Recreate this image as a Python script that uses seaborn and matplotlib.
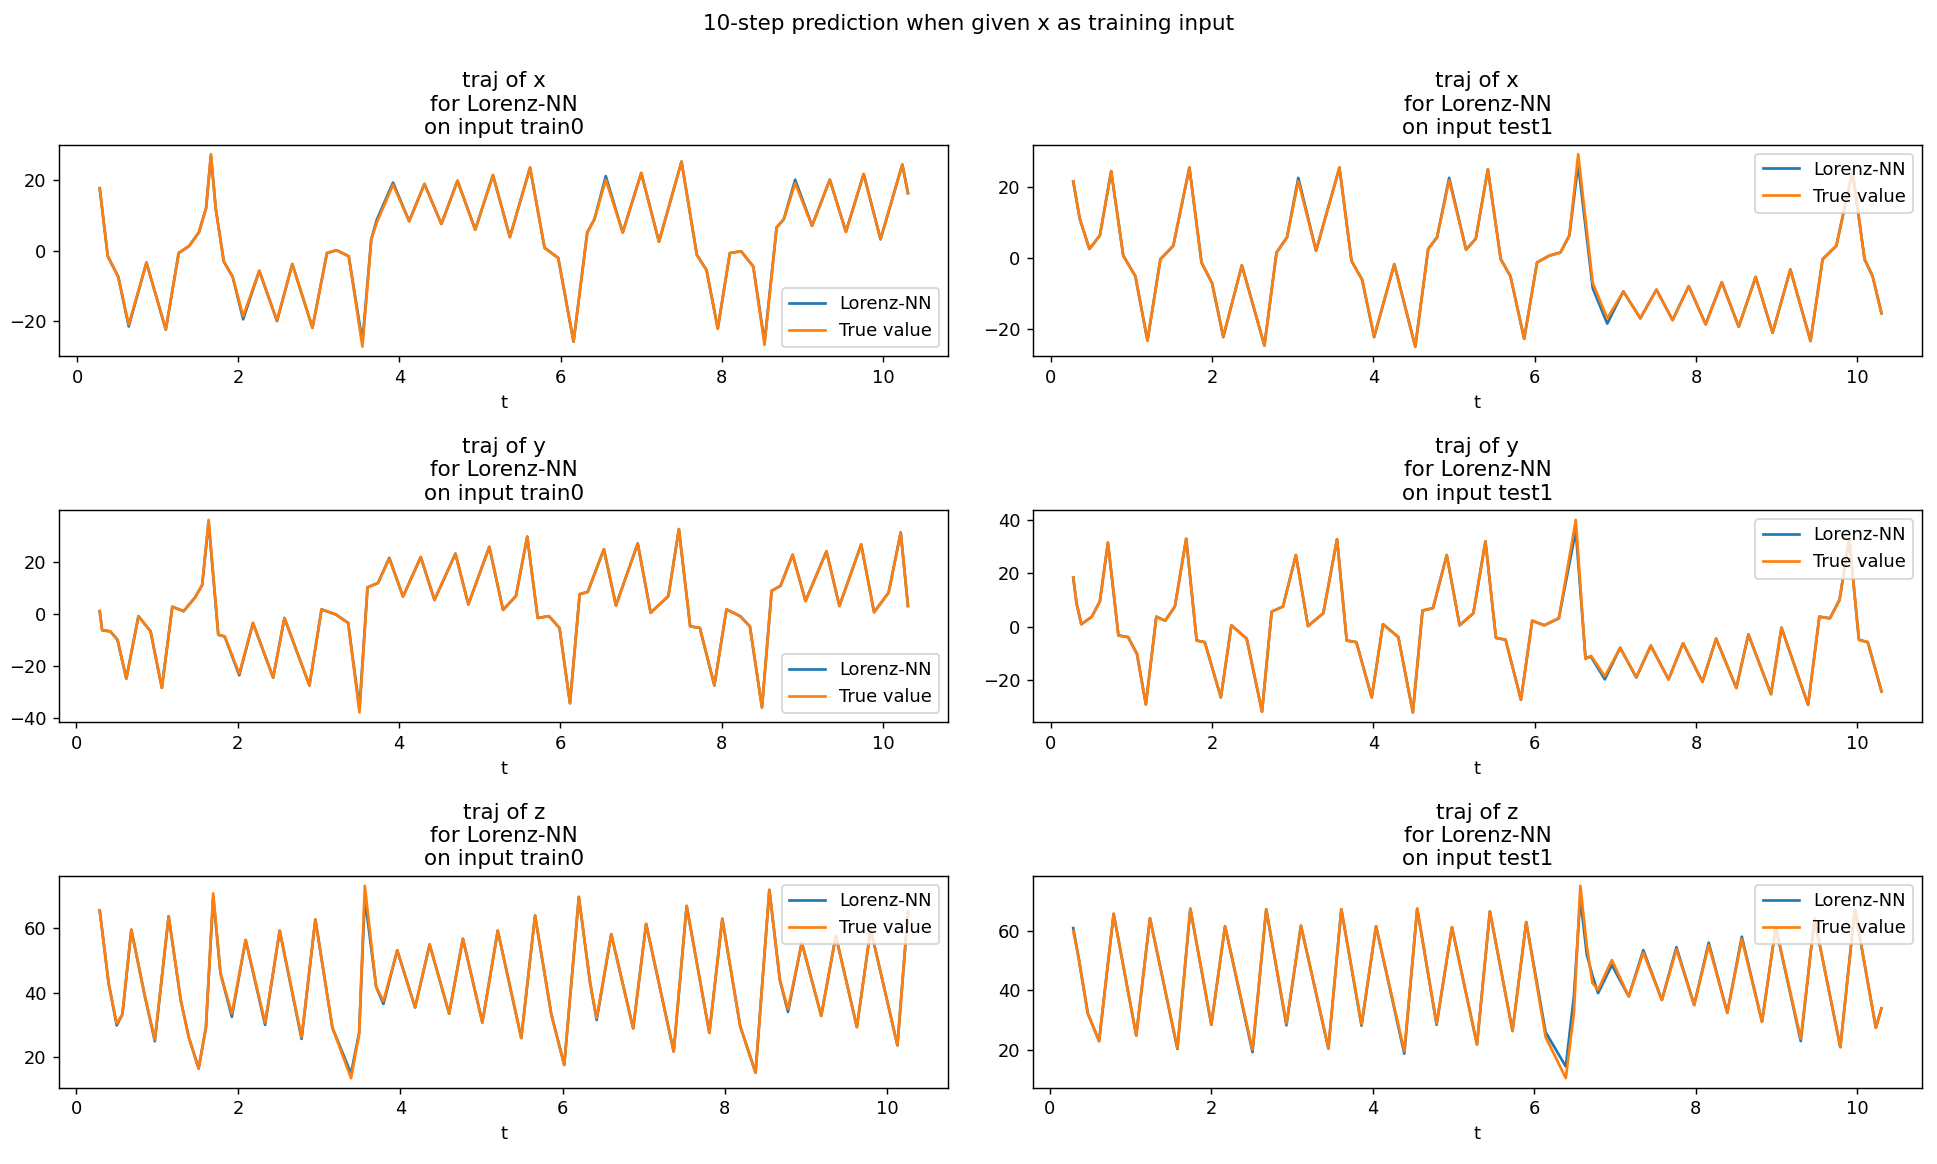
import matplotlib

matplotlib.use("Agg")
import matplotlib.pyplot as plt
import seaborn as sns

# ---- values (t, true trajectory, Lorenz-NN prediction) ----

# x, train0
t_x_train = [0.28, 0.38, 0.51, 0.64, 0.86, 1.10, 1.26, 1.39, 1.51, 1.60, 1.66, 1.72, 1.82, 1.93, 2.06, 2.26,
             2.48, 2.67, 2.92, 3.10, 3.22, 3.37, 3.54, 3.65, 3.72, 3.92, 4.12, 4.31, 4.52, 4.72, 4.94, 5.16,
             5.37, 5.62, 5.80, 5.97, 6.16, 6.33, 6.42, 6.56, 6.77, 7.00, 7.22, 7.50, 7.69, 7.81, 7.95, 8.10,
             8.24, 8.39, 8.53, 8.68, 8.77, 8.91, 9.12, 9.34, 9.54, 9.76, 9.97, 10.24, 10.31]
true_x_train = [17.6, -1.6, -7.4, -20.9, -3.4, -22.3, -0.7, 1.3, 5.1, 12.0, 27.2, 11.8, -3.1, -7.4, -18.5, -5.7,
                -19.7, -3.8, -21.8, -0.7, 0.1, -1.6, -27.1, 3.2, 8.0, 18.6, 8.3, 18.8, 7.5, 19.7, 5.9, 21.3,
                3.8, 23.4, 0.8, -2.1, -25.7, 5.1, 8.9, 20.0, 5.1, 21.9, 2.5, 25.1, -1.2, -5.5, -22.0, -0.7,
                -0.2, -4.5, -26.6, 6.5, 8.9, 19.0, 7.0, 20.0, 5.3, 21.6, 3.2, 24.3, 16.2]
nn_x_train = [17.6, -1.6, -7.4, -21.4, -3.4, -22.3, -0.7, 1.3, 5.1, 12.0, 26.8, 11.8, -3.1, -7.4, -19.4, -5.7,
              -19.9, -3.8, -21.8, -0.7, 0.1, -1.6, -25.7, 3.2, 8.8, 19.2, 8.3, 18.8, 7.5, 19.7, 5.9, 21.3,
              3.8, 23.4, 0.8, -2.1, -25.7, 5.1, 8.9, 21.0, 5.1, 21.9, 2.5, 25.1, -1.2, -5.5, -22.0, -0.7,
              -0.2, -4.5, -25.8, 6.5, 8.9, 20.0, 7.0, 20.0, 5.3, 21.6, 3.2, 24.3, 16.2]

# x, test1
t_x_test = [0.28, 0.36, 0.48, 0.61, 0.75, 0.90, 1.05, 1.20, 1.36, 1.52, 1.72, 1.87, 2.00, 2.14, 2.37, 2.65,
            2.80, 2.93, 3.07, 3.29, 3.58, 3.73, 3.86, 4.01, 4.26, 4.52, 4.68, 4.79, 4.94, 5.15, 5.27, 5.42,
            5.58, 5.70, 5.87, 6.03, 6.18, 6.32, 6.43, 6.54, 6.72, 6.90, 7.10, 7.31, 7.51, 7.71, 7.91, 8.12,
            8.32, 8.53, 8.74, 8.95, 9.17, 9.42, 9.57, 9.74, 9.94, 10.09, 10.19, 10.30]
true_x_test = [21.7, 11.2, 2.6, 6.4, 24.6, 0.7, -5.1, -23.3, -0.3, 3.5, 25.6, -1.2, -7.0, -22.1, -2.0, -24.7,
               1.6, 5.9, 21.8, 2.1, 25.6, -0.8, -6.0, -22.1, -1.7, -25.0, 2.6, 5.9, 22.0, 2.4, 5.5, 25.1,
               -0.3, -5.1, -22.8, -1.2, 0.7, 1.6, 6.4, 29.4, -7.0, -17.0, -9.4, -17.0, -8.9, -17.5, -7.9, -18.7,
               -6.8, -19.4, -5.3, -21.1, -3.2, -23.4, -0.3, 3.5, 24.6, -0.3, -5.1, -15.6]
nn_x_test = [21.7, 11.2, 2.6, 6.4, 24.6, 0.7, -5.1, -23.3, -0.3, 3.5, 25.6, -1.2, -7.0, -22.3, -2.0, -24.7,
             1.6, 5.9, 22.7, 2.1, 25.6, -0.8, -6.0, -22.3, -1.7, -25.0, 2.6, 5.9, 22.7, 2.4, 5.5, 25.1,
             -0.3, -5.1, -22.8, -1.2, 0.7, 1.6, 6.4, 26.5, -8.5, -18.5, -9.4, -17.0, -8.9, -17.5, -7.9, -18.7,
             -6.8, -19.4, -5.3, -21.1, -3.2, -23.4, -0.3, 3.5, 24.6, -0.3, -5.1, -15.6]

# y, train0
t_y_train = [0.29, 0.32, 0.42, 0.51, 0.62, 0.77, 0.92, 1.06, 1.19, 1.33, 1.47, 1.56, 1.64, 1.76, 1.84, 2.02,
             2.19, 2.44, 2.58, 2.89, 3.04, 3.22, 3.37, 3.51, 3.61, 3.74, 3.88, 4.05, 4.27, 4.44, 4.70, 4.86,
             5.12, 5.29, 5.45, 5.59, 5.72, 5.86, 5.99, 6.12, 6.24, 6.34, 6.54, 6.69, 6.96, 7.12, 7.34, 7.47,
             7.61, 7.73, 7.91, 8.06, 8.23, 8.35, 8.50, 8.62, 8.73, 8.88, 9.04, 9.30, 9.46, 9.73, 9.89, 10.07,
             10.22, 10.31]
true_y_train = [1.0, -6.3, -6.7, -9.9, -24.8, -0.9, -6.7, -28.3, 2.7, 1.0, 6.2, 11.0, 35.9, -8.0, -8.7, -22.9,
                -3.5, -24.4, -1.6, -27.4, 1.7, -0.3, -3.5, -37.7, 10.1, 11.8, 21.1, 6.6, 21.7, 5.3, 23.0, 3.6,
                25.6, 1.5, 6.8, 29.5, -1.6, -0.9, -5.4, -34.2, 7.5, 8.4, 24.7, 3.2, 26.9, 0.4, 6.8, 32.4,
                -4.8, -5.4, -27.4, 1.7, -0.9, -4.8, -35.8, 8.8, 10.7, 22.6, 4.9, 23.9, 3.0, 26.5, 0.6, 8.1,
                31.1, 3.0]
nn_y_train = [1.0, -6.3, -6.7, -9.9, -24.8, -0.9, -6.7, -28.3, 2.7, 1.0, 6.2, 11.0, 35.0, -8.0, -8.7, -23.5,
              -3.5, -24.4, -1.6, -27.4, 1.7, -0.3, -3.5, -36.2, 10.1, 11.8, 21.4, 6.6, 21.7, 5.3, 23.0, 3.6,
              25.6, 1.5, 6.8, 29.5, -1.6, -0.9, -5.4, -34.2, 7.5, 8.4, 24.7, 3.2, 26.9, 0.4, 6.8, 32.4,
              -4.8, -5.4, -27.4, 1.7, -0.9, -4.8, -35.8, 8.8, 10.7, 22.6, 4.9, 23.9, 3.0, 26.5, 0.6, 8.1,
              31.1, 3.0]

# y, test1
t_y_test = [0.28, 0.32, 0.38, 0.51, 0.61, 0.71, 0.84, 0.96, 1.07, 1.18, 1.31, 1.42, 1.54, 1.68, 1.81, 1.91,
            2.11, 2.24, 2.43, 2.62, 2.74, 2.88, 3.04, 3.19, 3.38, 3.55, 3.67, 3.79, 3.98, 4.12, 4.31, 4.49,
            4.61, 4.74, 4.91, 5.07, 5.24, 5.39, 5.52, 5.64, 5.83, 5.97, 6.12, 6.30, 6.51, 6.63, 6.70, 6.87,
            7.06, 7.26, 7.44, 7.66, 7.84, 8.08, 8.25, 8.50, 8.65, 8.93, 9.06, 9.39, 9.53, 9.66, 9.78, 9.90,
            10.02, 10.13, 10.30]
true_y_test = [18.4, 8.9, 1.0, 3.8, 9.5, 31.4, -3.2, -3.8, -10.1, -28.9, 3.8, 2.3, 7.6, 32.9, -5.1, -5.7,
               -26.3, 0.6, -4.4, -31.6, 5.7, 7.6, 26.8, 0.3, 5.1, 32.7, -5.1, -5.7, -26.3, 1.0, -3.8, -31.9,
               6.1, 7.0, 26.8, 0.6, 5.1, 31.9, -4.1, -4.8, -27.2, 2.3, 0.6, 3.2, 39.9, -12.0, -10.8, -18.4,
               -7.8, -18.7, -7.0, -19.6, -6.1, -20.5, -4.4, -22.8, -2.8, -25.1, -0.3, -29.1, 3.8, 3.2, 10.1, 32.9,
               -4.8, -5.7, -24.1]
nn_y_test = [18.4, 8.9, 1.0, 3.8, 9.5, 31.4, -3.2, -3.8, -10.1, -28.9, 3.8, 2.3, 7.6, 32.9, -5.1, -5.7,
             -26.3, 0.6, -4.4, -31.6, 5.7, 7.6, 26.8, 0.3, 5.1, 32.7, -5.1, -5.7, -26.3, 1.0, -3.8, -31.9,
             6.1, 7.0, 26.8, 0.6, 5.1, 31.9, -4.1, -4.8, -27.2, 2.3, 0.6, 3.2, 36.0, -11.5, -11.2, -19.6,
             -7.8, -18.9, -7.0, -19.6, -6.1, -20.5, -4.4, -22.8, -2.8, -25.1, -0.3, -29.1, 3.8, 3.2, 10.1, 32.9,
             -4.8, -5.7, -24.1]

# z, train0
t_z_train = [0.29, 0.40, 0.50, 0.57, 0.68, 0.84, 0.97, 1.14, 1.29, 1.39, 1.51, 1.60, 1.69, 1.78, 1.92, 2.09,
             2.33, 2.51, 2.78, 2.95, 3.16, 3.39, 3.49, 3.56, 3.70, 3.79, 3.96, 4.18, 4.36, 4.60, 4.77, 5.01,
             5.20, 5.49, 5.66, 5.86, 6.02, 6.20, 6.34, 6.42, 6.60, 6.87, 7.03, 7.37, 7.53, 7.81, 7.97, 8.19,
             8.38, 8.55, 8.68, 8.78, 8.95, 9.19, 9.37, 9.63, 9.80, 10.13, 10.26]
true_z_train = [65.6, 42.9, 30.4, 33.3, 59.6, 39.7, 25.4, 63.8, 37.6, 26.0, 16.4, 29.1, 70.9, 46.0, 33.5, 56.4,
                30.7, 59.3, 26.2, 62.8, 29.1, 13.4, 27.0, 73.3, 41.8, 37.4, 53.2, 35.4, 55.0, 33.5, 56.8, 30.7,
                59.3, 25.9, 64.0, 33.3, 17.5, 69.8, 42.9, 32.1, 58.2, 28.9, 61.4, 21.7, 67.0, 27.5, 63.0, 29.6,
                15.1, 72.0, 43.9, 34.9, 55.6, 32.8, 57.7, 29.3, 59.8, 23.6, 65.1]
nn_z_train = [65.6, 42.9, 29.8, 33.3, 59.6, 39.7, 24.9, 63.8, 37.6, 26.0, 16.4, 29.1, 69.8, 46.0, 32.5, 56.4,
              30.0, 59.3, 25.6, 62.8, 29.1, 14.8, 27.5, 69.5, 41.8, 36.5, 53.2, 35.4, 55.0, 33.5, 56.8, 30.7,
              59.3, 25.9, 64.0, 33.3, 17.5, 69.8, 42.9, 31.5, 58.2, 28.9, 61.4, 21.7, 67.0, 27.5, 63.0, 29.6,
              15.1, 72.0, 43.9, 34.0, 55.6, 32.8, 57.7, 29.3, 59.8, 23.6, 65.1]

# z, test1
t_z_test = [0.29, 0.36, 0.47, 0.61, 0.79, 1.07, 1.24, 1.58, 1.74, 2.00, 2.17, 2.51, 2.68, 2.93, 3.11, 3.45,
            3.61, 3.86, 4.04, 4.39, 4.55, 4.79, 4.98, 5.29, 5.45, 5.73, 5.90, 6.14, 6.39, 6.49, 6.57, 6.65,
            6.72, 6.79, 6.96, 7.17, 7.35, 7.58, 7.76, 7.98, 8.16, 8.39, 8.57, 8.82, 8.99, 9.30, 9.47, 9.79,
            9.97, 10.23, 10.30]
true_z_test = [60.0, 50.4, 32.3, 23.0, 65.7, 24.9, 64.2, 20.7, 67.4, 28.7, 61.5, 20.1, 67.2, 28.9, 61.7, 20.7,
               67.2, 28.7, 61.5, 19.6, 67.4, 28.9, 61.2, 21.9, 66.5, 26.4, 62.9, 24.4, 10.6, 32.3, 75.1, 55.0,
               42.5, 40.2, 50.2, 38.0, 52.7, 36.8, 53.8, 35.1, 55.2, 32.5, 57.2, 29.5, 61.2, 23.8, 64.0, 21.0,
               67.2, 27.5, 34.0]
nn_z_test = [60.9, 50.4, 32.3, 23.0, 65.7, 24.9, 64.2, 20.4, 67.4, 28.5, 61.5, 19.3, 67.2, 28.3, 61.7, 20.5,
             67.2, 28.2, 61.5, 18.8, 67.4, 28.5, 61.2, 21.9, 66.5, 26.4, 62.9, 26.0, 14.5, 38.0, 71.0, 52.0,
             45.0, 39.1, 48.5, 38.0, 53.5, 36.8, 54.5, 35.1, 56.0, 32.5, 58.0, 29.5, 61.2, 23.0, 64.0, 21.0,
             67.2, 27.5, 34.0]

VARIABLES = ["x", "y", "z"]
INPUTS = ["train0", "test1"]
LEGEND_LOC = [["lower right", "upper right"],
              ["lower right", "upper right"],
              ["upper right", "upper right"]]

panels = [
    [(t_x_train, nn_x_train, true_x_train), (t_x_test, nn_x_test, true_x_test)],
    [(t_y_train, nn_y_train, true_y_train), (t_y_test, nn_y_test, true_y_test)],
    [(t_z_train, nn_z_train, true_z_train), (t_z_test, nn_z_test, true_z_test)],
]

fig, axes = plt.subplots(3, 2, figsize=(15, 1164 / 129.2))
fig.subplots_adjust(left=0.0306, right=0.9917, top=0.8758, bottom=0.0655,
                    wspace=0.095, hspace=0.728)

for i, var in enumerate(VARIABLES):
    for j, inp in enumerate(INPUTS):
        ax = axes[i, j]
        t, nn, true = panels[i][j]
        sns.lineplot(x=t, y=nn, ax=ax, color="#1f77b4", label="Lorenz-NN", linewidth=1.5)
        sns.lineplot(x=t, y=true, ax=ax, color="#ff7f0e", label="True value", linewidth=1.5)
        ax.set_title(f"traj of {var}\nfor Lorenz-NN\non input {inp}", fontsize=12)
        ax.set_xlabel("t")
        ax.set_ylabel("")
        ax.set_xticks([0, 2, 4, 6, 8, 10])
        ax.legend(loc=LEGEND_LOC[i][j])

fig.suptitle("10-step prediction when given x as training input", y=0.988, fontsize=12)
fig.savefig("out.png", dpi=129.2)
